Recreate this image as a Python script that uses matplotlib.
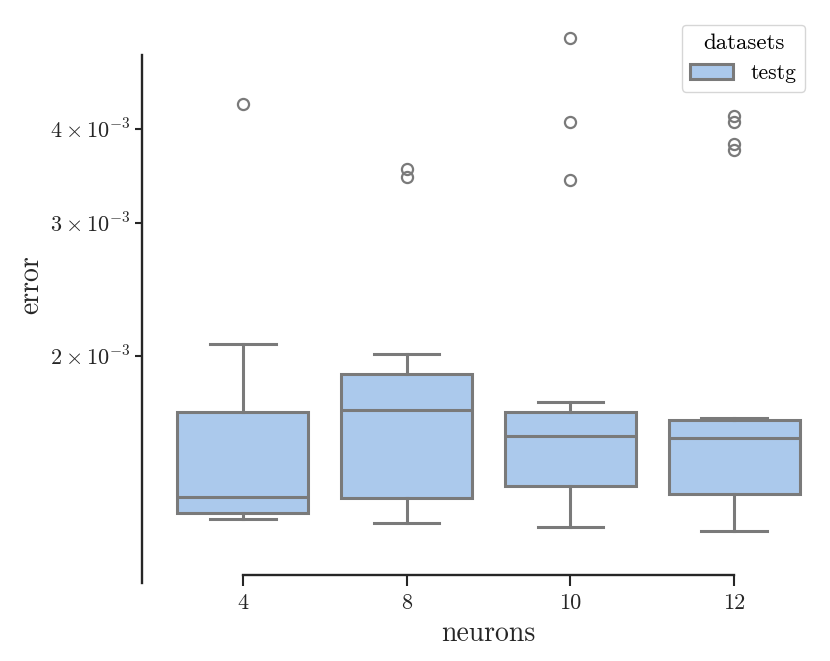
import matplotlib
matplotlib.use("Agg")
import matplotlib.pyplot as plt
from matplotlib.patches import Patch

# fonts that look like LaTeX output
plt.rcParams['font.family'] = 'serif'
plt.rcParams['font.serif'] = ['cmr10']
plt.rcParams['mathtext.fontset'] = 'cm'
plt.rcParams['axes.formatter.use_mathtext'] = True

# data (error values per neuron count)
neurons = ['4', '8', '10', '12']
whislo = [1.215e-3, 1.200e-3, 1.187e-3, 1.172e-3]
q1 = [1.239e-3, 1.296e-3, 1.344e-3, 1.312e-3]
med = [1.301e-3, 1.695e-3, 1.565e-3, 1.559e-3]
q3 = [1.686e-3, 1.893e-3, 1.686e-3, 1.647e-3]
whishi = [2.073e-3, 2.010e-3, 1.738e-3, 1.654e-3]
fliers = [
    [4.308e-3],
    [3.535e-3, 3.449e-3],
    [5.265e-3, 4.080e-3, 3.418e-3],
    [4.160e-3, 4.080e-3, 3.815e-3, 3.745e-3],
]
ytick_vals = [2e-3, 3e-3, 4e-3]
ytick_labels = [r'$2\times10^{-3}$', r'$3\times10^{-3}$', r'$4\times10^{-3}$']

fill = '#abc9ec'
gray = '#7a7a7a'
dark = '#262626'
lw = 2.2

stats = []
for i in range(len(neurons)):
    stats.append(dict(whislo=whislo[i], q1=q1[i], med=med[i], q3=q3[i],
                      whishi=whishi[i], fliers=fliers[i]))

fig = plt.figure(figsize=(8.3, 6.61), dpi=100)
ax = fig.add_axes([0.194, 0.159, 0.789, 0.82])

ax.bxp(stats, positions=range(len(neurons)), widths=0.8, capwidths=0.4,
       patch_artist=True,
       boxprops=dict(facecolor=fill, edgecolor=gray, linewidth=lw),
       medianprops=dict(color=gray, linewidth=lw),
       whiskerprops=dict(color=gray, linewidth=lw),
       capprops=dict(color=gray, linewidth=lw),
       flierprops=dict(marker='o', markerfacecolor='none', markeredgecolor=gray,
                       markersize=8, markeredgewidth=1.6))

ax.set_yscale('log')
ax.set_ylim(1.087e-3, 5.675e-3)
ax.set_xlim(-0.5, 3.5)
ax.minorticks_off()
ax.set_yticks(ytick_vals)
ax.set_yticklabels(ytick_labels)
ax.set_xticks(range(len(neurons)))
ax.set_xticklabels(neurons)

for s in ['top', 'right']:
    ax.spines[s].set_visible(False)
for s in ['left', 'bottom']:
    ax.spines[s].set_position(('outward', 13.7))
    ax.spines[s].set_color(dark)
    ax.spines[s].set_linewidth(1.7)
ax.spines['left'].set_bounds(1e-3, 5e-3)
ax.spines['bottom'].set_bounds(0, 3)

ax.tick_params(axis='both', labelsize=16, width=1.5, color=dark, labelcolor=dark)
ax.tick_params(axis='x', length=8, pad=5.5)
ax.tick_params(axis='y', length=5)

ax.set_xlabel('neurons', fontsize=20, color=dark, labelpad=5.5)
ax.set_ylabel('error', fontsize=20, color=dark)

handle = Patch(facecolor=fill, edgecolor=gray, linewidth=lw, label='testg')
leg = ax.legend(handles=[handle], title='datasets', loc='upper right',
                fontsize=15.5, title_fontsize=16.5, frameon=True,
                edgecolor='#cccccc', framealpha=0.8)

fig.savefig('out.png', dpi=100)
